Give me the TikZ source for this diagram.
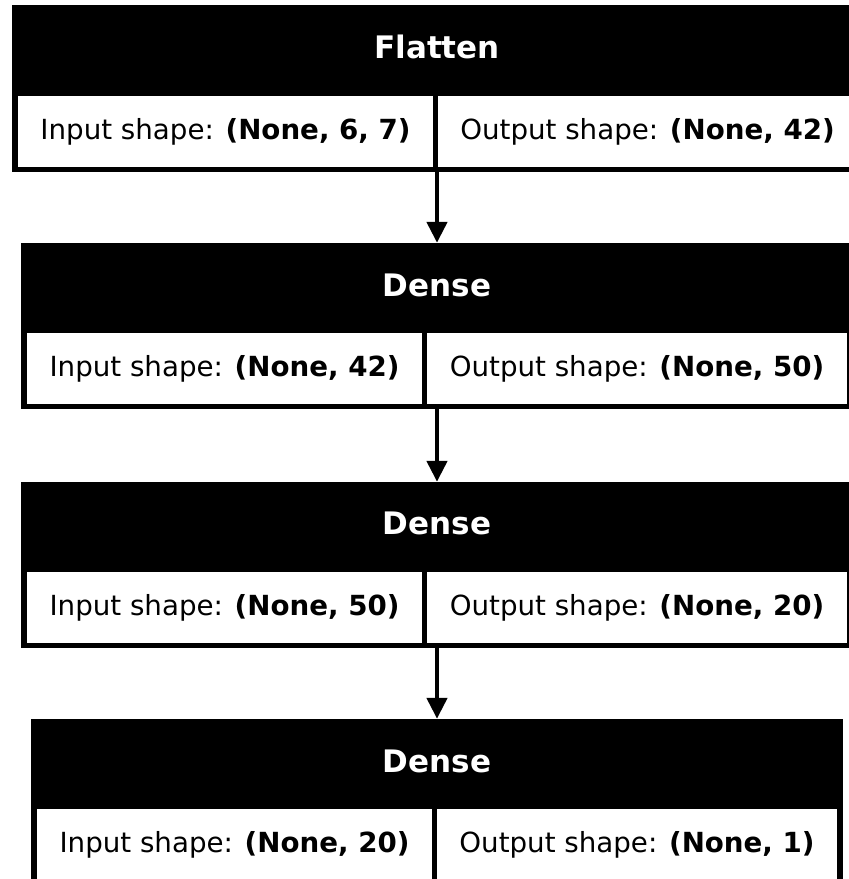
\documentclass[tikz,border=0pt]{standalone}
\usepackage{fontspec}
\setmainfont{DejaVu Sans}
\usetikzlibrary{arrows.meta}
\tikzset{
  outerbox/.style={fill=black, draw=none, inner sep=0pt, rectangle},
  headtext/.style={text=white, font=\fontsize{31}{36}\selectfont\bfseries, inner sep=0pt},
  cellbox/.style={fill=white, draw=none, inner sep=0pt, rectangle, minimum height=71pt,
    font=\fontsize{27.7}{34}\selectfont},
  conn/.style={line width=4.5pt, -{Triangle[width=20pt,length=21pt]}}
}
\begin{document}
\begin{tikzpicture}[x=1pt,y=-1pt]
\useasboundingbox (0,0) rectangle (849,879);
\clip (0,0) rectangle (849,879);
% Layer 1: Flatten
\node[outerbox, minimum width=850pt, minimum height=167pt] (l1) at (437,88.5) {};
\node[headtext] (l1t) at (437,47) {Flatten};
\node[cellbox, minimum width=415pt] (l1in) at (225.5,131.5) {Input shape: \textbf{(None, 6, 7)}};
\node[cellbox, minimum width=419pt] (l1out) at (647.5,131.5) {Output shape: \textbf{(None, 42)}};
% Layer 2
\node[outerbox, minimum width=832pt, minimum height=166pt] (l2) at (437,326) {};
\node[headtext] (l2t) at (437,285) {Dense};
\node[cellbox, minimum width=395pt] (l2in) at (224.5,368.5) {Input shape: \textbf{(None, 42)}};
\node[cellbox, minimum width=420pt] (l2out) at (637,368.5) {Output shape: \textbf{(None, 50)}};
% Layer 3
\node[outerbox, minimum width=832pt, minimum height=166pt] (l3) at (437,565) {};
\node[headtext] (l3t) at (437,523) {Dense};
\node[cellbox, minimum width=395pt] (l3in) at (224.5,607.5) {Input shape: \textbf{(None, 50)}};
\node[cellbox, minimum width=420pt] (l3out) at (637,607.5) {Output shape: \textbf{(None, 20)}};
% Layer 4
\node[outerbox, minimum width=812pt, minimum height=166pt] (l4) at (437,802) {};
\node[headtext] (l4t) at (437,761) {Dense};
\node[cellbox, minimum width=395pt] (l4in) at (234.5,844.5) {Input shape: \textbf{(None, 20)}};
\node[cellbox, minimum width=400pt] (l4out) at (637,844.5) {Output shape: \textbf{(None, 1)}};
% connectors
\draw[conn] (l1.south) -- (l2.north);
\draw[conn] (l2.south) -- (l3.north);
\draw[conn] (l3.south) -- (l4.north);
\end{tikzpicture}
\end{document}
